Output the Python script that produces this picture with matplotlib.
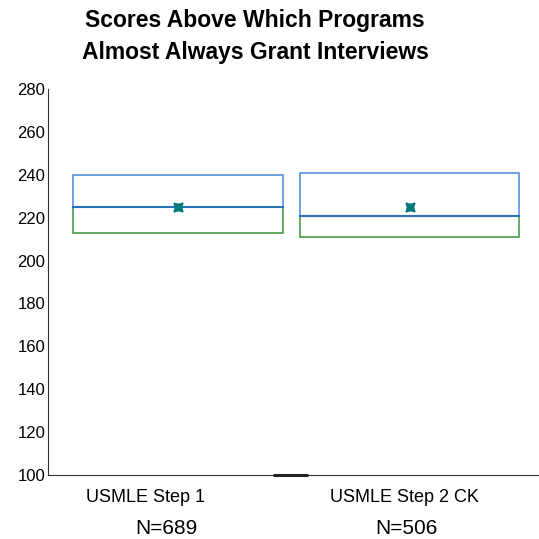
import matplotlib.pyplot as plt
from matplotlib.patches import Rectangle

plt.rcParams['font.family'] = ['Liberation Sans', 'DejaVu Sans']

# Data
categories = ["USMLE Step 1", "USMLE Step 2 CK"]
counts = [689, 506]
q1 = [213, 211]
median = [225, 221]
q3 = [240, 241]
means = [225, 225]
y_ticks = [100, 120, 140, 160, 180, 200, 220, 240, 260, 280]

W, H = 539, 539
fig = plt.figure(figsize=(W / 100, H / 100), dpi=100)


def fx(px):
    return px / W


def fy(py):
    return 1 - py / H


ax = fig.add_axes([fx(48), fy(475), fx(539) - fx(48), fy(89) - fy(475)])

box_widths = [0.907, 0.946]
blue = '#4a88dc'
green = '#3a963a'
med_col = '#2a72b8'

for i in range(len(categories)):
    w = box_widths[i]
    left = i - w / 2
    # lower half (Q1 -> median)
    ax.add_patch(Rectangle((left, q1[i]), w, median[i] - q1[i], fill=False,
                           edgecolor=green, linewidth=1.1))
    # upper half (median -> Q3)
    ax.add_patch(Rectangle((left, median[i]), w, q3[i] - median[i], fill=False,
                           edgecolor=blue, linewidth=1.1))
    ax.plot([left, left + w], [median[i], median[i]], color=med_col, linewidth=1.5)

ax.plot(range(len(categories)), means, linestyle='none', marker=(4, 1, 45),
        markersize=9, color='#007a7a', zorder=5)

# small dark piece on the baseline
ax.plot([0.41, 0.5616], [100, 100], color='#222222', linewidth=2.2,
        solid_capstyle='butt', clip_on=False, zorder=6)

ax.set_xlim(-0.5616, 1.559)
ax.set_ylim(100, 280)
ax.set_yticks(y_ticks)
ax.set_xticks([])
ax.tick_params(axis='y', length=0, pad=2, labelsize=12)
for s in ['top', 'right']:
    ax.spines[s].set_visible(False)
ax.spines['left'].set_color('#333333')
ax.spines['bottom'].set_color('#333333')

# category labels and counts
label_x = [146, 404]
n_x = [166, 406]
for i, cat in enumerate(categories):
    fig.text(fx(label_x[i]), fy(497), cat, ha='center', va='center', fontsize=13)
    fig.text(fx(n_x[i]), fy(529), f"N={counts[i]}", ha='center', va='center', fontsize=15)

fig.text(fx(255), fy(21), "Scores Above Which Programs", ha='center', va='center',
         fontsize=16.5, fontweight='bold')
fig.text(fx(255), fy(53), "Almost Always Grant Interviews", ha='center', va='center',
         fontsize=16.5, fontweight='bold')

fig.savefig('out.png', dpi=100)
